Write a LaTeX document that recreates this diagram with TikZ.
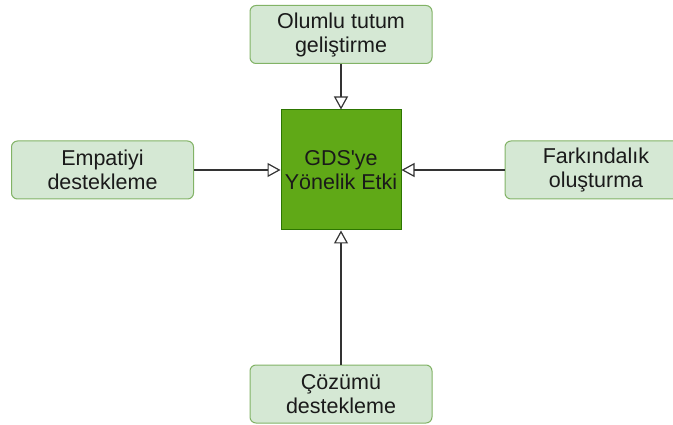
\documentclass[tikz,border=0pt]{standalone}
\usepackage{fontspec}
\setmainfont{Liberation Sans}
\usetikzlibrary{arrows.meta}
\definecolor{boxfill}{HTML}{D5E8D4}
\definecolor{boxline}{HTML}{82B366}
\definecolor{mainfill}{HTML}{60A917}
\definecolor{mainline}{HTML}{2D7600}
\definecolor{txt}{HTML}{1A1A1A}
\definecolor{edge}{HTML}{333333}
\begin{document}
\begin{tikzpicture}[x=1pt,y=-1pt,
  item/.style={draw=boxline, fill=boxfill, rounded corners=6pt, line width=1pt,
    minimum width=182pt, minimum height=58pt, align=center, text=txt,
    font=\fontsize{21.5}{24}\selectfont, inner sep=0pt},
  target/.style={draw=mainline, fill=mainfill, line width=1pt,
    minimum width=120pt, minimum height=120pt, align=center, text=txt,
    font=\fontsize{21.5}{24}\selectfont, inner sep=0pt},
  link/.style={draw=edge, line width=1.2pt, -{Triangle[open,length=13pt,width=14pt]}}]
\useasboundingbox (0,0) rectangle (673,425);
\node[target] (1) at (341,170) {GDS\textquotesingle ye\\Yönelik Etki};
\node[item] (2) at (341,34.5) {Olumlu tutum\\geliştirme};
\node[item] (3) at (102.5,170) {Empatiyi\\destekleme};
\node[item] (4) at (596,170) {Farkındalık\\oluşturma};
\node[item] (5) at (341,394) {Çözümü\\destekleme};
\path[link] (2) -- (1);
\path[link] (3) -- (1);
\path[link] (4) -- (1);
\path[link] (5) -- (1);
\end{tikzpicture}
\end{document}
